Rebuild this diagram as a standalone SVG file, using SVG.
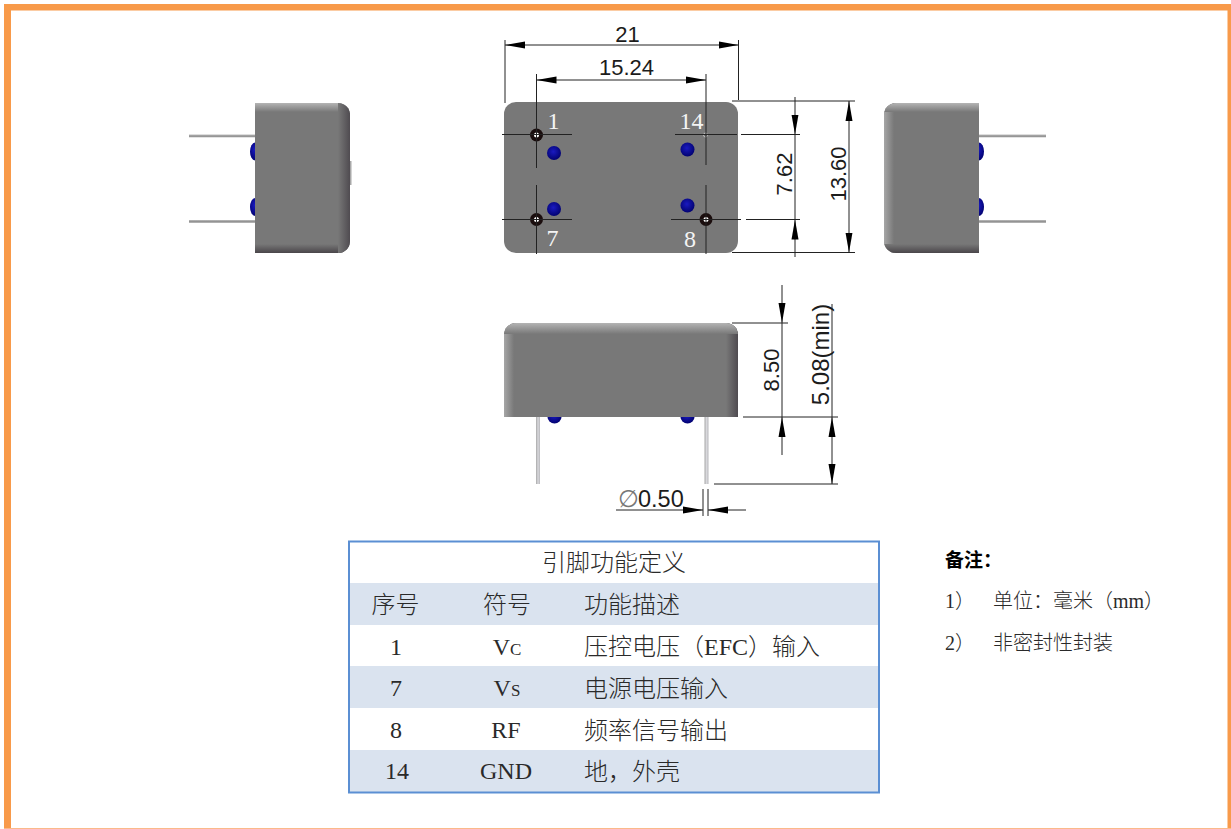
<svg xmlns="http://www.w3.org/2000/svg" width="1231" height="829" viewBox="0 0 1231 829">
<style>
.dim{stroke:#222;stroke-width:1;fill:none}
.dt{font-family:"Liberation Sans",Arial,sans-serif;font-size:22px;fill:#1c1c1c}
.pl{font-family:"Liberation Serif","Times New Roman",serif;font-size:24px;fill:#f4f4f4}
.t{font-family:"Liberation Serif","Noto Sans CJK SC",serif;font-size:24px;fill:#2a2a2a;font-weight:300}
.c{text-anchor:middle}
.n{font-family:"Liberation Serif","Noto Sans CJK SC",serif;font-size:20px;fill:#2a2a2a;font-weight:300}
.body{fill:#787878}
.blue{fill:url(#bl)}
.hole{fill:#1a0d0d}
.in{fill:#fff}
.band{fill:#dae3ef}
</style>
<defs>
<marker id="a" markerUnits="userSpaceOnUse" markerWidth="22" markerHeight="10" refX="20" refY="4" orient="auto-start-reverse"><path d="M0,0.500L20,4L0,7.500z" fill="#000"/></marker>
<radialGradient id="bl" cx=".45" cy=".4" r=".65"><stop offset="0" stop-color="#1a1ac0"/><stop offset="1" stop-color="#00006a"/></radialGradient>
<linearGradient id="lt" x1="0" y1="0" x2="0" y2="1"><stop offset="0" stop-color="#b4b4b4"/><stop offset="1" stop-color="#787878"/></linearGradient>
<linearGradient id="ll" x1="0" y1="0" x2="1" y2="0"><stop offset="0" stop-color="#a6a6a6"/><stop offset="1" stop-color="#787878"/></linearGradient>
<linearGradient id="dr" x1="0" y1="0" x2="1" y2="0"><stop offset="0" stop-color="#787878"/><stop offset="1" stop-color="#4f4b50"/></linearGradient>
<linearGradient id="db" x1="0" y1="0" x2="0" y2="1"><stop offset="0" stop-color="#787878"/><stop offset="1" stop-color="#4a464a"/></linearGradient>
<linearGradient id="pv" x1="0" y1="0" x2="1" y2="0"><stop offset="0" stop-color="#a8a8a8"/><stop offset=".5" stop-color="#d8d8dc"/><stop offset="1" stop-color="#b8b8bc"/></linearGradient>
<linearGradient id="ph" x1="0" y1="0" x2="0" y2="1"><stop offset="0" stop-color="#bdbdbd"/><stop offset=".6" stop-color="#8c8c8c"/><stop offset="1" stop-color="#c8c8c8"/></linearGradient>
<clipPath id="cl"><path d="M255,103H338A12,12 0 0 1 350,115V241A12,12 0 0 1 338,253H255z"/></clipPath>
<clipPath id="cr"><path d="M979,103H896A12,12 0 0 0 884,115V241A12,12 0 0 0 896,253H979z"/></clipPath>
<clipPath id="cb"><path d="M504,417V335A12,12 0 0 1 516,323H726A12,12 0 0 1 738,335V417z"/></clipPath>
</defs>

<rect width="1231" height="829" fill="#fff"/>
<g id="frame" fill="#f89a4a">
<rect x="4" y="4" width="1227" height="6.500"/>
<rect x="4" y="4" width="7" height="825"/>
<rect x="1227.500" y="4" width="3.500" height="825"/>
<rect x="4" y="828" width="1227" height="1" fill="#fbb98a"/>
</g>

<g id="view-left">
<rect x="189" y="134.500" width="66" height="3" fill="url(#ph)"/>
<rect x="189" y="220" width="66" height="3" fill="url(#ph)"/>
<ellipse cx="255" cy="151.500" rx="5" ry="9" class="blue"/>
<ellipse cx="255" cy="207" rx="5" ry="9" class="blue"/>
<rect x="350" y="161" width="1.500" height="24" fill="#a8a8a8"/>
<g clip-path="url(#cl)">
<rect x="255" y="103" width="95" height="150" class="body"/>
<rect x="255" y="103" width="95" height="9" fill="url(#lt)"/>
<rect x="255" y="244" width="95" height="9" fill="url(#db)"/>
<rect x="338" y="103" width="12" height="150" fill="url(#dr)"/>
</g>
</g>

<g id="view-top">
<rect x="504" y="102" width="234" height="151" rx="12" class="body"/>
<circle cx="554" cy="153" r="7" class="blue"/>
<circle cx="554" cy="209" r="7" class="blue"/>
<circle cx="687.500" cy="149.500" r="7" class="blue"/>
<circle cx="687.500" cy="205.500" r="7" class="blue"/>
<circle cx="536.500" cy="135" r="6.500" class="hole"/><circle cx="536.500" cy="135" r="2.500" class="in"/>
<circle cx="536.500" cy="219.500" r="6.500" class="hole"/><circle cx="536.500" cy="219.500" r="2.500" class="in"/>
<circle cx="706" cy="219.500" r="6.500" class="hole"/><circle cx="706" cy="219.500" r="2.500" class="in"/>
<circle cx="705.500" cy="135" r="2" fill="none" stroke="#ddd" stroke-width=".7"/>
<text class="pl c" x="553.500" y="129">1</text>
<text class="pl c" x="691.500" y="129">14</text>
<text class="pl c" x="552.500" y="246">7</text>
<text class="pl c" x="690" y="246.500">8</text>
</g>

<g id="view-side">
<rect x="536" y="417" width="4" height="67" fill="url(#pv)"/>
<rect x="704.500" y="417" width="4" height="67" fill="url(#pv)"/>
<ellipse cx="554.500" cy="417" rx="7" ry="6.500" class="blue"/>
<ellipse cx="687.500" cy="417" rx="7" ry="6.500" class="blue"/>
<g clip-path="url(#cb)">
<rect x="504" y="323" width="234" height="94" class="body"/>
<rect x="504" y="323" width="10" height="94" fill="url(#ll)"/>
<rect x="726" y="323" width="12" height="94" fill="url(#dr)"/>
<rect x="504" y="323" width="234" height="11" fill="url(#lt)"/>
</g>
</g>

<g id="view-right">
<rect x="979" y="134.500" width="67" height="3" fill="url(#ph)"/>
<rect x="979" y="220" width="67" height="3" fill="url(#ph)"/>
<ellipse cx="979" cy="151.500" rx="5" ry="9" class="blue"/>
<ellipse cx="979" cy="207" rx="5" ry="9" class="blue"/>
<g clip-path="url(#cr)">
<rect x="884" y="103" width="95" height="150" class="body"/>
<rect x="884" y="103" width="10" height="150" fill="url(#ll)"/>
<rect x="884" y="103" width="95" height="9" fill="url(#lt)"/>
<rect x="884" y="244" width="95" height="9" fill="url(#db)"/>
</g>
</g>

<g id="connectors" class="dim">
<path d="M505,40V103M738.500,40V100M536.500,74V168M536.500,185V254M706,74V165M706,185V254"/>
<path d="M502,134.500H572M675,134.500H737M741,134.500H800M502,219.500H572M671,219.500H741M746,219.500H800"/>
<path d="M732,101H855M732,252.500H855M732,323H788M743,417H838M714,484H838"/>
<path d="M703,489V516M708,489V516"/>
<line x1="505" y1="45" x2="738.500" y2="45" marker-start="url(#a)" marker-end="url(#a)"/>
<line x1="536.500" y1="80" x2="706" y2="80" marker-start="url(#a)" marker-end="url(#a)"/>
<line x1="795" y1="97" x2="795" y2="134.500" marker-end="url(#a)"/>
<line x1="795" y1="257" x2="795" y2="219.500" marker-end="url(#a)"/>
<line x1="795" y1="134.500" x2="795" y2="219.500"/>
<line x1="849" y1="101" x2="849" y2="252.500" marker-start="url(#a)" marker-end="url(#a)"/>
<line x1="782" y1="285" x2="782" y2="323" marker-end="url(#a)"/>
<line x1="782" y1="455" x2="782" y2="417" marker-end="url(#a)"/>
<line x1="782" y1="323" x2="782" y2="417"/>
<line x1="832" y1="304" x2="832" y2="417"/>
<line x1="832" y1="417" x2="832" y2="484" marker-start="url(#a)" marker-end="url(#a)"/>
<line x1="616" y1="510" x2="703" y2="510" marker-end="url(#a)"/>
<line x1="746" y1="510" x2="708" y2="510" marker-end="url(#a)"/>
</g>

<g id="dim-labels">
<text class="dt c" x="627.500" y="41.500">21</text>
<text class="dt c" x="626.500" y="75">15.24</text>
<text class="dt c" transform="translate(792,174) rotate(-90)">7.62</text>
<text class="dt c" transform="translate(846,174) rotate(-90)">13.60</text>
<text class="dt c" transform="translate(779,370) rotate(-90)">8.50</text>
<text class="dt c" style="font-size:24px" transform="translate(829,354.500) rotate(-90)">5.08(min)</text>
<text class="dt" x="618" y="507" style="font-size:23.500px"><tspan fill="#777">∅</tspan><tspan x="638">0.50</tspan></text>
</g>

<g id="pin-table">
<rect class="band" x="349" y="583" width="530" height="42"/>
<rect class="band" x="349" y="666" width="530" height="42"/>
<rect class="band" x="349" y="750" width="530" height="42"/>
<rect x="349" y="541.500" width="530" height="251" fill="none" stroke="#5b8fd3" stroke-width="2"/>
<text class="t c" x="614" y="571">引脚功能定义</text>
<text class="t c" x="395.500" y="613">序号</text>
<text class="t c" x="507" y="613">符号</text>
<text class="t" x="584" y="613">功能描述</text>
<text class="t c" x="396" y="655">1</text>
<text class="t c" x="507" y="655">V<tspan font-size="17">C</tspan></text>
<text class="t" x="584" y="655">压控电压（EFC）输入</text>
<text class="t c" x="396" y="696">7</text>
<text class="t c" x="507" y="696">V<tspan font-size="17">S</tspan></text>
<text class="t" x="584" y="697">电源电压输入</text>
<text class="t c" x="396" y="738">8</text>
<text class="t c" x="506" y="738">RF</text>
<text class="t" x="584" y="739">频率信号输出</text>
<text class="t c" x="397" y="779">14</text>
<text class="t c" x="506" y="779">GND</text>
<text class="t" x="584" y="780">地，外壳</text>
</g>

<g id="notes">
<text class="n" x="945" y="567" style="font-weight:700;fill:#000;font-size:19px">备注：</text>
<text class="n" x="945" y="608">1）</text>
<text class="n" x="993" y="608">单位：毫米（mm）</text>
<text class="n" x="945" y="650">2）</text>
<text class="n" x="993" y="650">非密封性封装</text>
</g>
</svg>
